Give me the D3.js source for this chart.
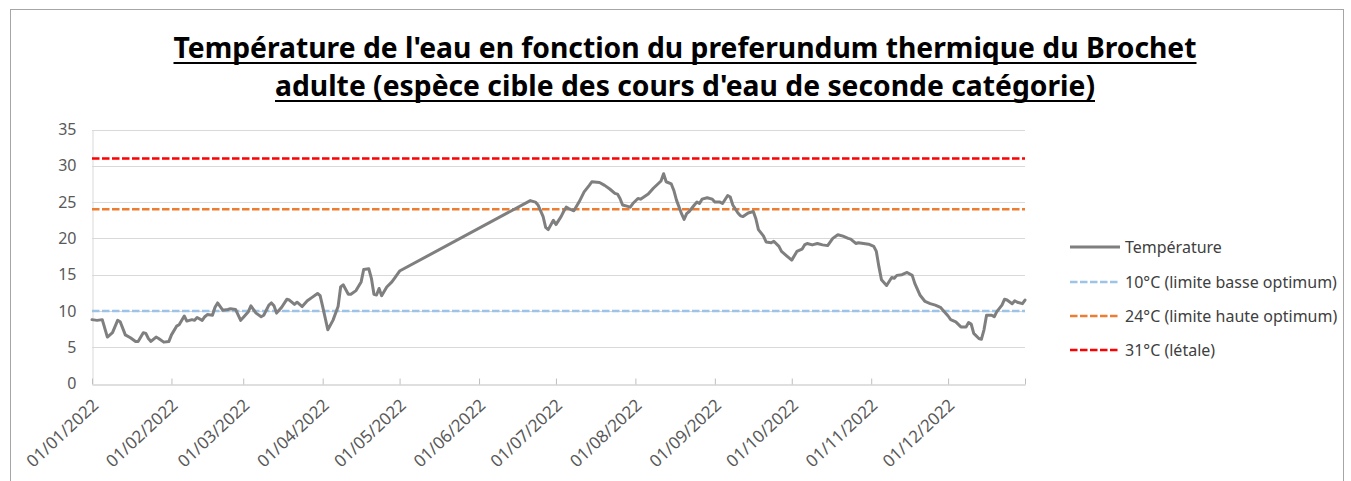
<!DOCTYPE html>
<html>
  <head>
    <meta charset="utf-8">
    <title>Température de l'eau - Brochet</title>
    <script src="https://d3js.org/d3.v7.min.js"></script>
    <style>
      body { margin: 0; background: #fff; }
      svg { display: block; font-family: "Noto Sans", sans-serif; }
    </style>
  </head>
  <body>
    <svg id="chart" width="1351" height="481"></svg>
    <script>
      // data (days counted from 01/01/2022, temperatures in °C)
      days = [
        0, 2, 4, 6, 8, 10, 11, 13, 15, 17,
        18, 20, 21, 22, 23, 25, 26, 28, 30, 31,
        33, 34, 36, 37, 39, 40, 41, 43, 44, 45,
        47, 48, 49, 51, 53, 54, 56, 58, 59, 61,
        62, 64, 66, 67, 69, 70, 71, 72, 74, 76,
        77, 79, 80, 82, 84, 86, 88, 89, 90, 92,
        94, 96, 97, 98, 100, 101, 103, 105, 106, 108,
        109, 110, 111, 112, 113, 115, 117, 118, 120,
        171, 173, 174, 176, 177, 178, 180, 181, 183, 184,
        185, 186, 188, 190, 192, 194, 195, 198, 200, 202,
        204, 205, 206, 207, 209, 210, 211, 213, 214, 217,
        219, 222, 223, 224, 226, 227, 228, 230, 231, 232,
        233, 235, 236, 237, 238, 240, 242, 243, 245, 246,
        248, 249, 250, 252, 253, 254, 256, 258, 259, 260,
        262, 263, 265, 266, 268, 269, 271, 273, 275, 277,
        278, 279, 281, 283, 285, 287, 289, 291, 293, 295,
        296, 298, 299, 301, 303, 305, 306, 307, 308, 310,
        312, 313, 314, 316, 318, 320, 321, 323, 325, 327,
        329, 331, 332, 334, 335, 337, 339, 341, 342, 343,
        344, 346, 347, 348, 349, 351, 352, 353, 355, 356,
        357, 359, 360, 361, 363, 364
      ];
      temps = [
        8.8, 8.7, 8.8, 6.4, 7.0, 8.7, 8.5, 6.7, 6.3, 5.8,
        5.8, 7.0, 6.9, 6.2, 5.8, 6.4, 6.2, 5.7, 5.8, 6.7,
        7.9, 8.1, 9.3, 8.6, 8.8, 8.7, 9.1, 8.7, 9.2, 9.5,
        9.4, 10.5, 11.1, 10.1, 10.2, 10.3, 10.2, 8.7, 9.1, 9.9,
        10.7, 9.7, 9.2, 9.4, 10.8, 11.1, 10.7, 9.7, 10.5, 11.6,
        11.5, 10.9, 11.2, 10.6, 11.4, 11.9, 12.4, 12.1, 10.6, 7.4,
        8.7, 10.6, 13.3, 13.6, 12.3, 12.3, 12.8, 14.0, 15.7, 15.8,
        14.5, 12.3, 12.2, 13.1, 12.1, 13.3, 14.0, 14.5, 15.5,
        25.2, 25.0, 24.6, 23.0, 21.5, 21.2, 22.5, 21.9, 23.0, 23.7,
        24.3, 24.1, 23.8, 25.0, 26.4, 27.3, 27.8, 27.7, 27.3, 26.8,
        26.2, 26.1, 25.5, 24.6, 24.4, 24.3, 24.8, 25.5, 25.4, 26.1,
        26.9, 27.9, 28.9, 27.8, 27.5, 26.6, 25.3, 23.4, 22.6, 23.4,
        23.7, 24.6, 25.0, 24.8, 25.4, 25.6, 25.4, 25.0, 25.0, 24.8,
        25.9, 25.7, 24.6, 23.5, 23.1, 23.0, 23.5, 23.7, 22.7, 21.2,
        20.3, 19.5, 19.4, 19.6, 18.9, 18.2, 17.6, 17.0, 18.2, 18.5,
        19.1, 19.3, 19.1, 19.3, 19.1, 19.0, 20.0, 20.5, 20.3, 20.0,
        19.9, 19.3, 19.4, 19.3, 19.2, 18.9, 18.2, 16.1, 14.3, 13.5,
        14.6, 14.5, 14.9, 15.0, 15.3, 14.9, 13.8, 12.2, 11.3, 11.0,
        10.8, 10.5, 10.1, 9.3, 8.8, 8.5, 7.8, 7.8, 8.4, 8.2,
        6.9, 6.2, 6.1, 7.4, 9.4, 9.4, 9.2, 9.9, 10.8, 11.6,
        11.5, 11.0, 11.4, 11.2, 11.0, 11.5
      ];
      thresholds = [10, 24, 31];
      seriesNames = ["Température", "10°C (limite basse optimum)", "24°C (limite haute optimum)", "31°C (létale)"];
      yTicks = [0, 5, 10, 15, 20, 25, 30, 35];
      xTickLabels = ["01/01/2022", "01/02/2022", "01/03/2022", "01/04/2022", "01/05/2022", "01/06/2022",
        "01/07/2022", "01/08/2022", "01/09/2022", "01/10/2022", "01/11/2022", "01/12/2022"];
      titleLines = ["Température de l'eau en fonction du preferundum thermique du Brochet",
        "adulte (espèce cible des cours d'eau de seconde catégorie)"];

      // styles
      lineColor = "#7f7f7f";
      thresholdColors = ["#9dc3e6", "#ed7d31", "#ff0000"];
      dash = "7.5,2.5";

      svg = d3.select("#chart");
      margin = { left: 92, right: 1025, top: 129.5, bottom: 383.5 };
      parseDate = d3.timeParse("%d/%m/%Y");
      start = parseDate("01/01/2022");
      data = days.map((d, i) => ({ date: d3.timeDay.offset(start, d), value: temps[i] }));

      x = d3.scaleTime()
        .domain([start, parseDate("31/12/2022")])
        .range([margin.left, margin.right]);
      y = d3.scaleLinear()
        .domain([0, 35])
        .range([margin.bottom, margin.top]);

      // chart border
      svg.append("rect")
        .attr("x", 10.5).attr("y", 9.5)
        .attr("width", 1333).attr("height", 480)
        .attr("fill", "none")
        .attr("stroke", "#a6a6a6");

      // title
      titleWidths = [1023, 820];
      titleY = [58, 96];
      titleLines.forEach(function(t, i) {
        let left = 685 - titleWidths[i] / 2;
        svg.append("text")
          .attr("x", left)
          .attr("y", titleY[i])
          .attr("textLength", titleWidths[i])
          .attr("lengthAdjust", "spacingAndGlyphs")
          .attr("font-size", 29)
          .attr("font-weight", "bold")
          .attr("fill", "#000")
          .text(t);
        svg.append("line")
          .attr("x1", left).attr("x2", left + titleWidths[i])
          .attr("y1", titleY[i] + 5).attr("y2", titleY[i] + 5)
          .attr("stroke", "#000")
          .attr("stroke-width", 2);
      });

      // gridlines
      svg.append("g")
        .selectAll("line")
        .data(yTicks.filter(d => d > 0))
        .join("line")
          .attr("x1", margin.left).attr("x2", margin.right)
          .attr("y1", d => Math.round(y(d)) + 0.5)
          .attr("y2", d => Math.round(y(d)) + 0.5)
          .attr("stroke", "#d9d9d9");

      // y axis
      yAxis = svg.append("g")
        .attr("transform", "translate(" + (margin.left + 0.5) + ",0)")
        .call(d3.axisLeft(y).tickValues(yTicks).tickSize(0).tickPadding(16));
      yAxis.select(".domain").attr("stroke", "#d9d9d9");
      yAxis.selectAll("text")
        .attr("font-family", "Noto Sans")
        .attr("font-size", 16)
        .attr("fill", "#595959");

      // x axis
      xTicks = xTickLabels.map(parseDate);
      xAxis = svg.append("g")
        .attr("transform", "translate(0," + (Math.round(margin.bottom) + 0.5) + ")")
        .call(d3.axisBottom(x)
          .tickValues(xTicks.concat([x.domain()[1]]))
          .tickSizeInner(-6)
          .tickSizeOuter(0)
          .tickFormat((d, i) => i < xTickLabels.length ? xTickLabels[i] : ""));
      xAxis.select(".domain").attr("stroke", "#bfbfbf");
      xAxis.selectAll(".tick line").attr("stroke", "#bfbfbf");
      xAxis.selectAll("text")
        .attr("font-family", "Noto Sans")
        .attr("font-size", 17)
        .attr("fill", "#595959")
        .attr("text-anchor", "end")
        .attr("x", null).attr("y", null).attr("dy", null)
        .attr("transform", "translate(7,22) rotate(-43)");

      // threshold lines
      svg.append("g")
        .selectAll("line")
        .data(thresholds)
        .join("line")
          .attr("x1", margin.left).attr("x2", margin.right)
          .attr("y1", d => y(d)).attr("y2", d => y(d))
          .attr("stroke", (d, i) => thresholdColors[i])
          .attr("stroke-width", 2.5)
          .attr("stroke-dasharray", dash);

      // temperature line
      line = d3.line()
        .x(d => x(d.date))
        .y(d => y(d.value));
      svg.append("path")
        .datum(data)
        .attr("d", line)
        .attr("fill", "none")
        .attr("stroke", lineColor)
        .attr("stroke-width", 3)
        .attr("stroke-linejoin", "round")
        .attr("stroke-linecap", "round");

      // legend
      legendY = [247, 282, 316, 350];
      legend = svg.append("g")
        .selectAll("g")
        .data(seriesNames)
        .join("g")
          .attr("transform", (d, i) => "translate(0," + legendY[i] + ")");
      legend.append("line")
        .attr("x1", 1070).attr("x2", 1120)
        .attr("stroke", (d, i) => i == 0 ? lineColor : thresholdColors[i - 1])
        .attr("stroke-width", (d, i) => i == 0 ? 3 : 2.5)
        .attr("stroke-dasharray", (d, i) => i == 0 ? null : dash);
      legend.append("text")
        .attr("x", 1125)
        .attr("dy", "0.35em")
        .attr("font-size", 16)
        .attr("fill", "#404040")
        .text(d => d);
    </script>
  </body>
</html>
